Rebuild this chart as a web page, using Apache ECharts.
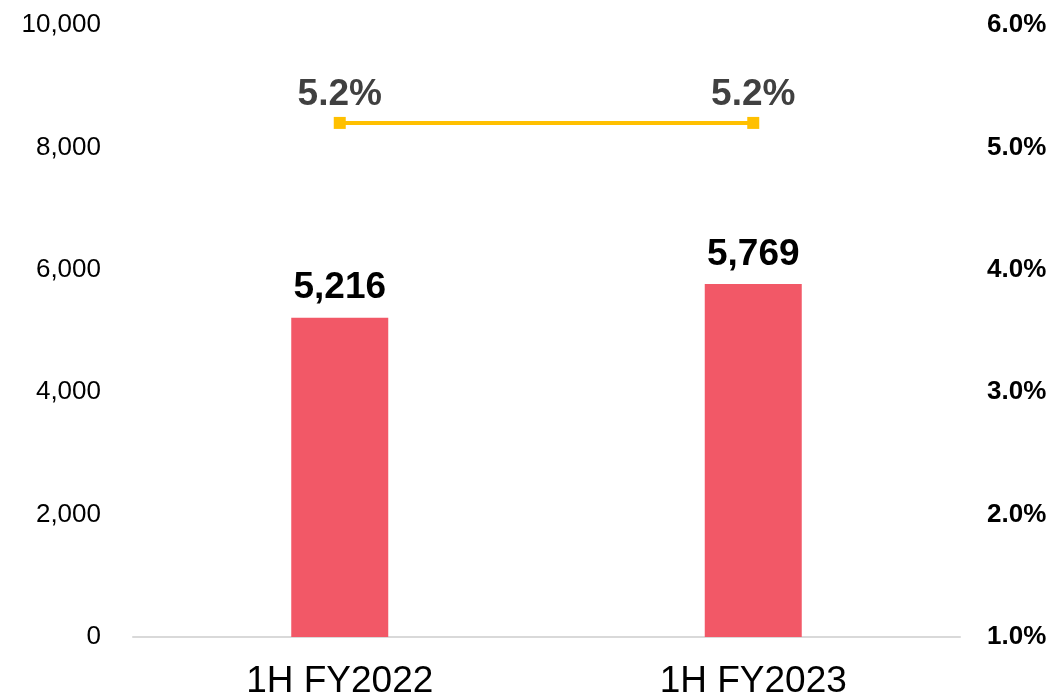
<!DOCTYPE html>
<html>
<head>
<meta charset="utf-8">
<script src="https://cdn.jsdelivr.net/npm/echarts@6/dist/echarts.min.js"></script>
<style>
  html, body { margin: 0; padding: 0; background: #fff; }
  #chart { width: 1053px; height: 696px; }
</style>
</head>
<body>
<div id="chart"></div>
<script>
// data
const categories = ['1H FY2022', '1H FY2023'];
const barValues = [5216, 5769];
const rateValues = [5.2, 5.2];

const chart = echarts.init(document.getElementById('chart'));
chart.setOption({
  animation: false,
  textStyle: { fontFamily: 'Liberation Sans, Arial, sans-serif' },
  grid: { left: 133, right: 93, top: 25, bottom: 59, outerBoundsMode: 'none' },
  xAxis: {
    type: 'category',
    data: categories,
    axisLine: { lineStyle: { color: '#d9d9d9', width: 2 } },
    axisTick: { show: false },
    axisLabel: { color: '#000', fontSize: 37, margin: 26 }
  },
  yAxis: [
    {
      type: 'value',
      min: 0, max: 10000, interval: 2000,
      splitLine: { show: false },
      axisLabel: {
        color: '#000', fontSize: 26, margin: 32,
        formatter: v => v.toLocaleString('en-US')
      }
    },
    {
      type: 'value',
      min: 1, max: 6, interval: 1,
      splitLine: { show: false },
      axisLabel: {
        color: '#000', fontSize: 26, fontWeight: 'bold', margin: 27,
        formatter: v => v.toFixed(1) + '%'
      }
    }
  ],
  series: [
    {
      type: 'bar',
      data: barValues,
      barWidth: 97,
      itemStyle: { color: '#F25867' },
      label: {
        show: true, position: 'top', distance: 11,
        color: '#000', fontSize: 37, fontWeight: 'bold',
        formatter: p => p.value.toLocaleString('en-US')
      }
    },
    {
      type: 'line',
      yAxisIndex: 1,
      data: rateValues,
      symbol: 'rect',
      symbolSize: 12,
      lineStyle: { color: '#FFC000', width: 4 },
      itemStyle: { color: '#FFC000' },
      label: {
        show: true, position: 'top', distance: 4,
        color: '#404040', fontSize: 37, fontWeight: 'bold',
        formatter: p => p.value.toFixed(1) + '%'
      }
    }
  ]
});
</script>
</body>
</html>
